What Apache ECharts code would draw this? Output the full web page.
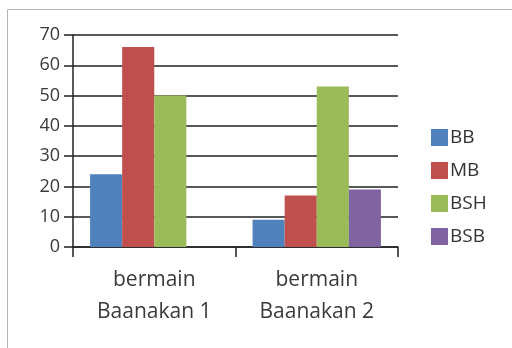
<!DOCTYPE html>
<html><head><meta charset="utf-8">
<script src="https://cdn.jsdelivr.net/npm/echarts@6/dist/echarts.min.js"></script>
<style>html,body{margin:0;padding:0;background:#fff}#c{width:512px;height:348px}</style>
</head><body><div id="c"></div>
<script>
var categories = ['bermain\nBaanakan 1', 'bermain\nBaanakan 2'];
var seriesNames = ['BB', 'MB', 'BSH', 'BSB'];
var BB = [24, 9];
var MB = [66, 17];
var BSH = [50, 53];
var BSB = [0, 19];
var yTicks = [0, 10, 20, 30, 40, 50, 60, 70];
var colors = ['#4f81bd', '#c0504d', '#9bbb59', '#8064a2'];
var values = [BB, MB, BSH, BSB];
var font = '"Open Sans", "Noto Sans", sans-serif';
var chart = echarts.init(document.getElementById('c'), null, {renderer: 'canvas'});
chart.setOption({
  animation: false,
  color: colors,
  graphic: [{type: 'rect', shape: {x: 7.5, y: 9.5, width: 520, height: 350}, style: {fill: 'none', stroke: '#b4b4b4', lineWidth: 1}}],
  grid: {left: 73, right: 114, top: 35, bottom: 101, containLabel: false},
  legend: {
    orient: 'vertical', left: 426, top: 123, itemWidth: 17, itemHeight: 17, itemGap: 14,
    icon: 'rect', data: seriesNames,
    textStyle: {fontSize: 19, color: '#333', fontFamily: font, padding: [0, 0, 0, -3]}
  },
  xAxis: {
    type: 'category', data: categories,
    axisLine: {lineStyle: {color: '#222', width: 1.5}},
    axisTick: {show: true, length: 10, alignWithLabel: false, lineStyle: {color: '#222', width: 1.5}},
    axisLabel: {fontSize: 21, lineHeight: 32, color: '#3a3a3a', fontFamily: font, margin: 17, interval: 0}
  },
  yAxis: {
    type: 'value', min: yTicks[0], max: yTicks[yTicks.length - 1], interval: 10,
    axisLine: {show: true, lineStyle: {color: '#222', width: 1.5}},
    axisTick: {show: true, length: 9, lineStyle: {color: '#222', width: 1.5}},
    axisLabel: {fontSize: 18, color: '#3a3a3a', fontFamily: font, margin: 13},
    splitLine: {show: true, lineStyle: {color: '#222', width: 1.5}}
  },
  series: seriesNames.map(function (n, i) {
    return {name: n, type: 'bar', data: values[i], barGap: '0%', barCategoryGap: '21%'};
  })
});
</script></body></html>
